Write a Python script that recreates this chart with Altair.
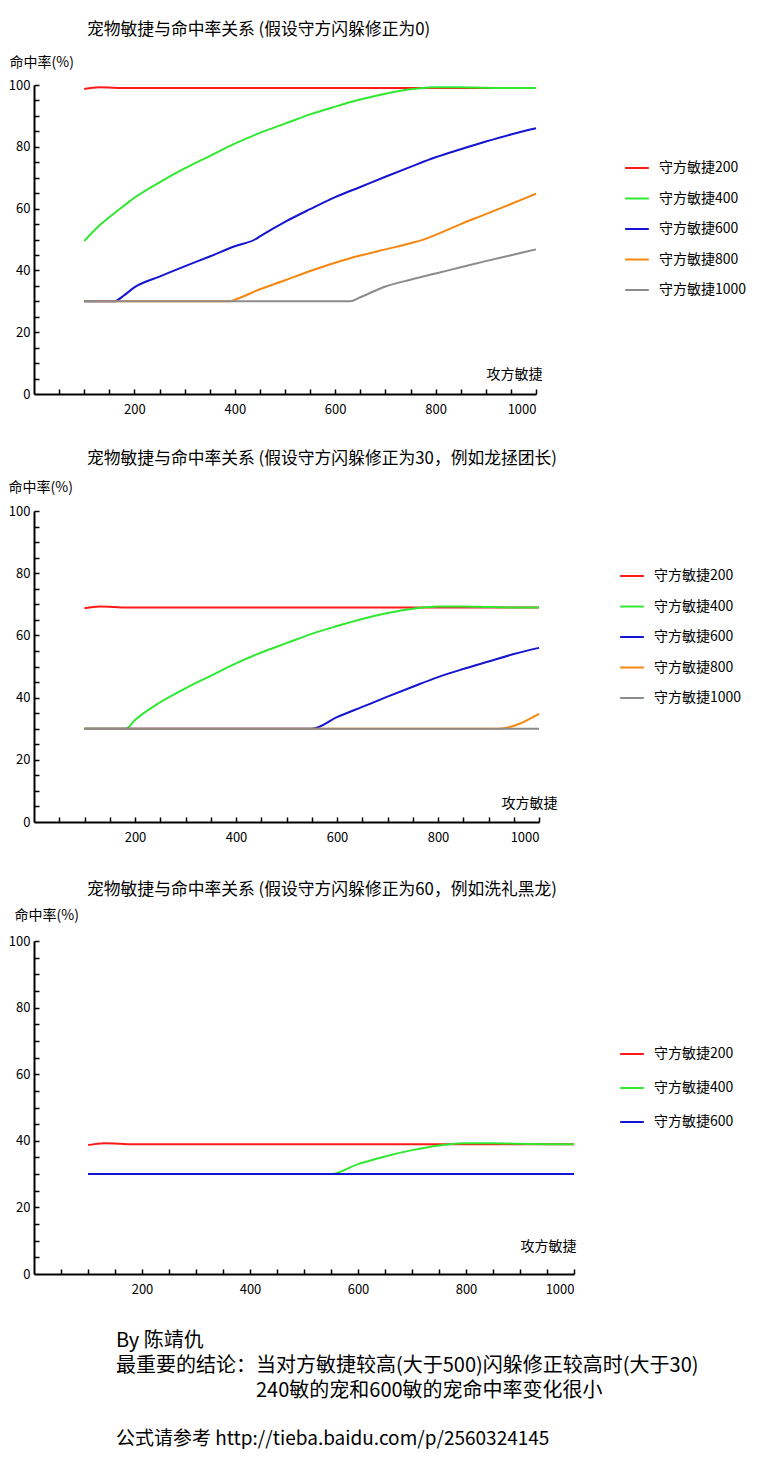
import altair as alt
import pandas as pd

FONT = "Noto Sans CJK SC"

SERIES = ["守方敏捷200", "守方敏捷400", "守方敏捷600", "守方敏捷800", "守方敏捷1000"]
COLORS = ["#ff1a1a", "#30e830", "#1414d2", "#f7860f", "#8c8c8c"]

X_MAJOR = [200, 400, 600, 800, 1000]
Y_MAJOR = [0, 20, 40, 60, 80, 100]
X_MINOR = list(range(50, 1001, 50))
Y_MINOR = list(range(5, 101, 5))

# ---------- chart 1: dodge correction 0 ----------
c1_red_x = [100, 130, 160, 180, 1000]
c1_red_y = [98.7, 99.3, 99.1, 99.0, 99.0]
c1_green_x = [100, 130, 160, 180, 200, 250, 300, 350, 400, 450, 500, 550, 600, 650, 700, 750, 780, 800, 850, 900, 950, 1000]
c1_green_y = [49.5, 54.5, 58.5, 61, 63.5, 68.5, 73, 77, 81, 84.5, 87.5, 90.5, 93, 95.3, 97.2, 98.6, 99.1, 99.3, 99.3, 99.1, 99, 99]
c1_blue_x = [100, 160, 180, 200, 250, 300, 350, 400, 440, 450, 500, 550, 600, 650, 700, 750, 800, 850, 900, 950, 1000]
c1_blue_y = [30, 30, 32, 34.5, 38, 41.3, 44.5, 47.8, 50, 51, 55.7, 59.8, 63.7, 67, 70.3, 73.5, 76.6, 79.2, 81.7, 84, 86]
c1_orange_x = [100, 390, 400, 450, 500, 550, 600, 650, 700, 750, 780, 800, 850, 900, 950, 1000]
c1_orange_y = [30, 30, 30.5, 33.9, 36.8, 39.8, 42.5, 44.8, 46.8, 48.8, 50.2, 51.5, 55, 58.2, 61.5, 64.8]
c1_gray_x = [100, 630, 650, 700, 750, 800, 850, 900, 950, 1000]
c1_gray_y = [30, 30, 31.3, 34.8, 37, 39, 41, 43, 44.9, 46.8]

# ---------- chart 2: dodge correction 30 ----------
c2_red_x = [100, 130, 160, 180, 1000]
c2_red_y = [68.7, 69.3, 69.1, 69.0, 69.0]
c2_green_x = [100, 182, 200, 250, 300, 350, 400, 450, 500, 550, 600, 650, 700, 750, 780, 800, 850, 900, 950, 1000]
c2_green_y = [30, 30, 32.8, 38.5, 43, 47, 51, 54.5, 57.5, 60.5, 63, 65.3, 67.2, 68.6, 69.1, 69.3, 69.3, 69.1, 69, 69]
c2_blue_x = [100, 550, 600, 650, 700, 750, 800, 850, 900, 950, 1000]
c2_blue_y = [30, 30, 33.7, 37, 40.3, 43.5, 46.6, 49.2, 51.6, 54, 56]
c2_orange_x = [100, 920, 1000]
c2_orange_y = [30, 30, 34.8]
c2_gray_x = [100, 1000]
c2_gray_y = [30, 30]

# ---------- chart 3: dodge correction 60 ----------
c3_red_x = [100, 130, 160, 180, 1000]
c3_red_y = [38.7, 39.3, 39.1, 39.0, 39.0]
c3_green_x = [100, 550, 600, 650, 700, 750, 780, 800, 850, 900, 950, 1000]
c3_green_y = [30, 30, 33, 35.3, 37.2, 38.6, 39.1, 39.3, 39.3, 39.1, 39, 39]
c3_blue_x = [100, 1000]
c3_blue_y = [30, 30]

TITLES = [
    "宠物敏捷与命中率关系 (假设守方闪躲修正为0)",
    "宠物敏捷与命中率关系 (假设守方闪躲修正为30，例如龙拯团长)",
    "宠物敏捷与命中率关系 (假设守方闪躲修正为60，例如洗礼黑龙)",
]
NOTE_LINES = [
    "By 陈靖仇",
    "最重要的结论：当对方敏捷较高(大于500)闪躲修正较高时(大于30)",
    "\u200b" + "\u3000" * 7 + "240敏的宠和600敏的宠命中率变化很小",
]
NOTE_LINK = "公式请参考 http://tieba.baidu.com/p/2560324145"


def build_df(pairs, names):
    rows = []
    for name, (xs, ys) in zip(names, pairs):
        for a, b in zip(xs, ys):
            rows.append({"atk": a, "hit": b, "series": name})
    return pd.DataFrame(rows)


def make_panel(df, names, title_text, w, h, leg_x, leg_y, leg_pad,
               yt_x, yt_y, xt_x, xt_y, t_off):
    xscale = alt.Scale(domain=[0, 1000], nice=False)
    yscale = alt.Scale(domain=[0, 100], nice=False)
    color = alt.Color(
        "series:N", sort=names,
        scale=alt.Scale(domain=names, range=COLORS[:len(names)]),
        legend=alt.Legend(title=None, orient="none", legendX=leg_x, legendY=leg_y,
                          symbolType="stroke", symbolSize=560, symbolStrokeWidth=2,
                          labelFontSize=14, labelOffset=9, rowPadding=leg_pad,
                          labelColor="black"),
    )
    main = alt.Chart(df).mark_line(strokeWidth=2, interpolate="monotone").encode(
        x=alt.X("atk:Q", scale=xscale, axis=alt.Axis(
            orient="bottom", values=X_MAJOR, format="d", ticks=False, grid=False,
            domainWidth=2, labelFontSize=13, labelPadding=9,
            title="攻方敏捷", titleX=xt_x, titleY=xt_y, titleAlign="right",
            titleBaseline="middle", titleFontSize=14, titleFontWeight="normal")),
        y=alt.Y("hit:Q", scale=yscale, axis=alt.Axis(
            orient="left", values=Y_MAJOR, ticks=False, grid=False,
            domainWidth=2, labelFontSize=13, labelPadding=4,
            title="命中率(%)", titleAngle=0, titleX=yt_x, titleY=yt_y,
            titleAlign="left", titleBaseline="middle", titleFontSize=14,
            titleFontWeight="normal")),
        color=color,
    )
    ticks = alt.Chart(df).mark_point(opacity=0).encode(
        x=alt.X("atk:Q", scale=xscale, axis=alt.Axis(
            orient="bottom", values=X_MINOR, domain=False, labels=False,
            ticks=True, tickSize=5, tickWidth=1.5, translate=-4.5, tickOffset=5,
            grid=False, title=None)),
        y=alt.Y("hit:Q", scale=yscale, axis=alt.Axis(
            orient="left", values=Y_MINOR, domain=False, labels=False,
            ticks=True, tickSize=5, tickWidth=1.5, translate=5.5, tickOffset=-5,
            grid=False, title=None)),
    )
    return alt.layer(main, ticks).resolve_axis(x="independent", y="independent").properties(
        width=w, height=h,
        title=alt.TitleParams(title_text, anchor="start", frame="group", dx=53,
                              fontSize=16.8, fontWeight="normal", offset=t_off,
                              color="black"),
    )


df1 = build_df([(c1_red_x, c1_red_y), (c1_green_x, c1_green_y), (c1_blue_x, c1_blue_y),
                (c1_orange_x, c1_orange_y), (c1_gray_x, c1_gray_y)], SERIES)
df2 = build_df([(c2_red_x, c2_red_y), (c2_green_x, c2_green_y), (c2_blue_x, c2_blue_y),
                (c2_orange_x, c2_orange_y), (c2_gray_x, c2_gray_y)], SERIES)
df3 = build_df([(c3_red_x, c3_red_y), (c3_green_x, c3_green_y), (c3_blue_x, c3_blue_y)], SERIES[:3])

p1 = make_panel(df1, SERIES, TITLES[0], 502, 309, 590, 70, 10.5, -25, -23, 508, -20, 16)
p2 = make_panel(df2, SERIES, TITLES[1], 505, 311, 585, 52, 10.5, -26, -24, 523, -19, 12)
p3 = make_panel(df3, SERIES[:3], TITLES[2], 540, 333, 585, 100, 14, -20, -26, 542, -28, 9)

top = alt.vconcat(p1, p2, spacing=35).resolve_scale(color="independent").resolve_legend(color="independent")

chart = alt.vconcat(top, p3, spacing=38).resolve_scale(color="independent").resolve_legend(
    color="independent"
).properties(
    padding={"left": 0, "top": 14, "right": 0, "bottom": 0},
    title=alt.TitleParams(NOTE_LINES, subtitle=NOTE_LINK, orient="bottom", anchor="start",
                          frame="bounds", dx=108, offset=35, fontSize=20,
                          fontWeight="normal", lineHeight=25, color="black",
                          subtitleFontSize=19, subtitleColor="black",
                          subtitlePadding=29, subtitleFont=FONT),
).configure_view(stroke=None).configure_axis(
    labelFont=FONT, titleFont=FONT, labelColor="black", titleColor="black",
    domainColor="black", tickColor="black",
).configure_legend(labelFont=FONT).configure_title(font=FONT)

chart.save("out.html", embed_options={"renderer": "svg", "actions": False})
